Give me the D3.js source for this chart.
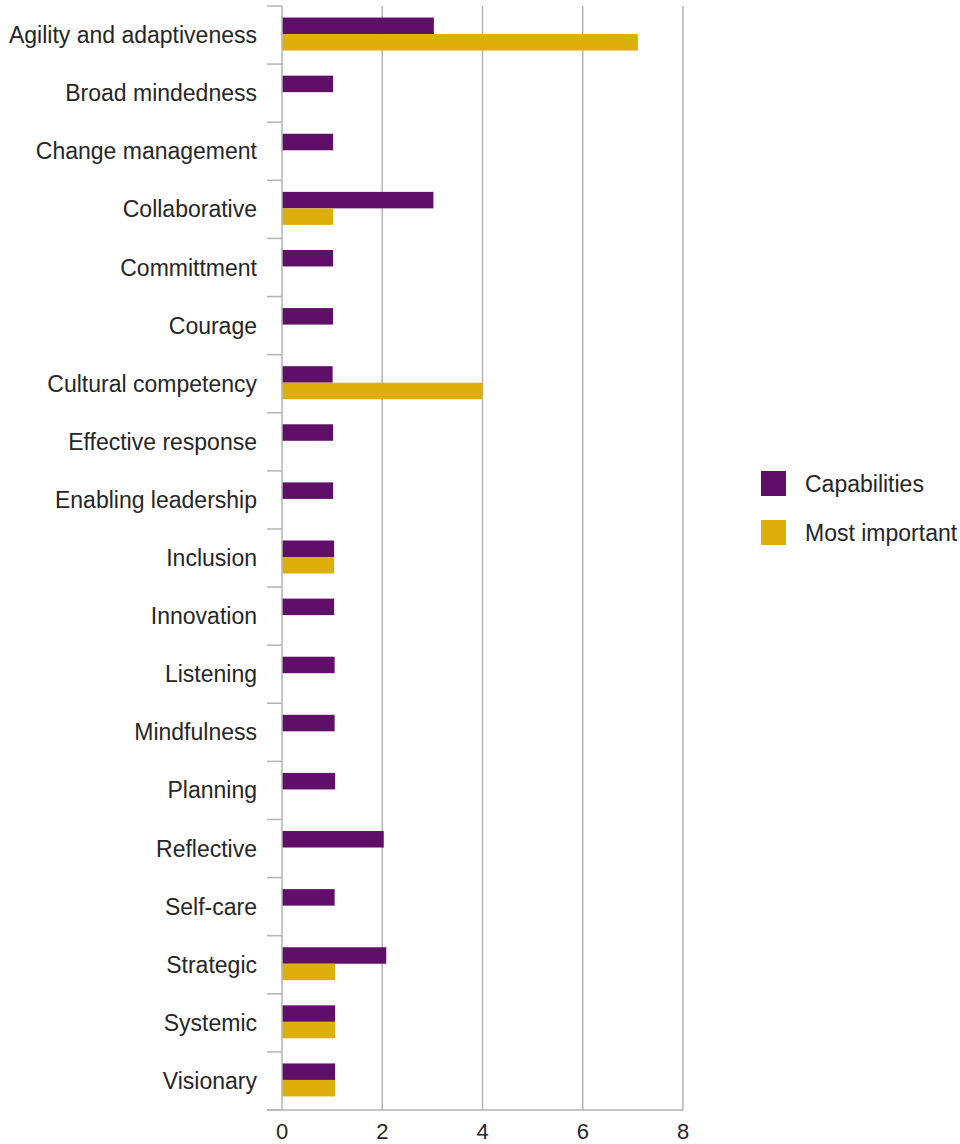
<!DOCTYPE html>
<html>
<head>
<meta charset="utf-8">
<script src="https://cdn.jsdelivr.net/npm/d3@7/dist/d3.min.js"></script>
<style>
  body { margin: 0; background: #fff; }
  text { font-family: "Liberation Sans", Arial, sans-serif; fill: #262626; }
</style>
</head>
<body>
<div class="app"></div>
<script>
const categories = ['Agility and adaptiveness', 'Broad mindedness', 'Change management', 'Collaborative',
  'Committment', 'Courage', 'Cultural competency', 'Effective response', 'Enabling leadership',
  'Inclusion', 'Innovation', 'Listening', 'Mindfulness', 'Planning', 'Reflective', 'Self-care',
  'Strategic', 'Systemic', 'Visionary']
const capabilities = [3.03, 1.02, 1.02, 3.02, 1.02, 1.02, 1.01, 1.02, 1.02, 1.04, 1.04, 1.05, 1.05, 1.06, 2.03, 1.05, 2.08, 1.06, 1.06]
const mostImportant = [7.1, 0, 0, 1.02, 0, 0, 4, 0, 0, 1.04, 0, 0, 0, 0, 0, 0, 1.06, 1.06, 1.06]
const xTicks = [0, 2, 4, 6, 8]
const seriesNames = ['Capabilities', 'Most important']
const colors = ['#5f0f68', '#deaf0a']

const main = () => {
  const width = 960, height = 1144
  const left = 282, right = 683, top = 6, bottom = 1110

  const svg = d3.select('.app').append('svg').attr('width', width).attr('height', height)

  const x = d3.scaleLinear().domain([0, 8]).range([left, right])
  const y = d3.scaleBand().domain(categories).range([top, bottom])
  const inner = d3.scaleBand().domain(seriesNames).range([0, 33])
  const pad = (y.bandwidth() - 33) / 2 - 1

  // vertical grid
  svg.append('g').selectAll('line')
    .data(xTicks.slice(1))
    .enter().append('line')
    .attr('x1', d => x(d)).attr('x2', d => x(d))
    .attr('y1', top).attr('y2', bottom)
    .attr('stroke', '#b3b3b3').attr('stroke-width', 1.5)

  const rows = svg.append('g').selectAll('g')
    .data(categories)
    .enter().append('g')
    .attr('transform', d => `translate(0,${y(d) + pad})`)

  const series = [capabilities, mostImportant]
  series.forEach((vals, s) => {
    rows.append('rect')
      .attr('x', x(0))
      .attr('y', inner(seriesNames[s]))
      .attr('height', inner.bandwidth())
      .attr('width', (d, i) => x(vals[i]) - x(0))
      .attr('fill', colors[s])
  })

  // left axis
  const yAxis = svg.append('g')
  yAxis.append('line')
    .attr('x1', left).attr('x2', left).attr('y1', top).attr('y2', bottom)
    .attr('stroke', '#b3b3b3').attr('stroke-width', 1.5)
  yAxis.selectAll('.tk')
    .data(categories.concat(['end']))
    .enter().append('line')
    .attr('x1', left - 15).attr('x2', left)
    .attr('y1', (d, i) => top + i * y.step()).attr('y2', (d, i) => top + i * y.step())
    .attr('stroke', '#b3b3b3').attr('stroke-width', 1.5)
  yAxis.selectAll('text')
    .data(categories)
    .enter().append('text')
    .attr('x', left - 25)
    .attr('y', d => y(d) + y.bandwidth() / 2)
    .attr('dy', '0.35em')
    .attr('text-anchor', 'end')
    .attr('font-size', 23)
    .text(d => d)

  // bottom axis
  const xAxis = svg.append('g')
  xAxis.append('line')
    .attr('x1', left - 15).attr('x2', right).attr('y1', bottom).attr('y2', bottom)
    .attr('stroke', '#b3b3b3').attr('stroke-width', 1.5)
  xAxis.selectAll('text')
    .data(xTicks)
    .enter().append('text')
    .attr('x', d => x(d))
    .attr('y', bottom + 29)
    .attr('text-anchor', 'middle')
    .attr('font-size', 22)
    .text(d => d)

  // legend
  const legend = svg.append('g').attr('transform', 'translate(761,471)')
  seriesNames.forEach((name, i) => {
    legend.append('rect')
      .attr('x', 0).attr('y', i * 49)
      .attr('width', 25).attr('height', 25)
      .attr('fill', colors[i])
    legend.append('text')
      .attr('x', 44).attr('y', i * 49 + 12.5)
      .attr('dy', '0.35em')
      .attr('font-size', 23)
      .text(name)
  })
}

main()
</script>
</body>
</html>
